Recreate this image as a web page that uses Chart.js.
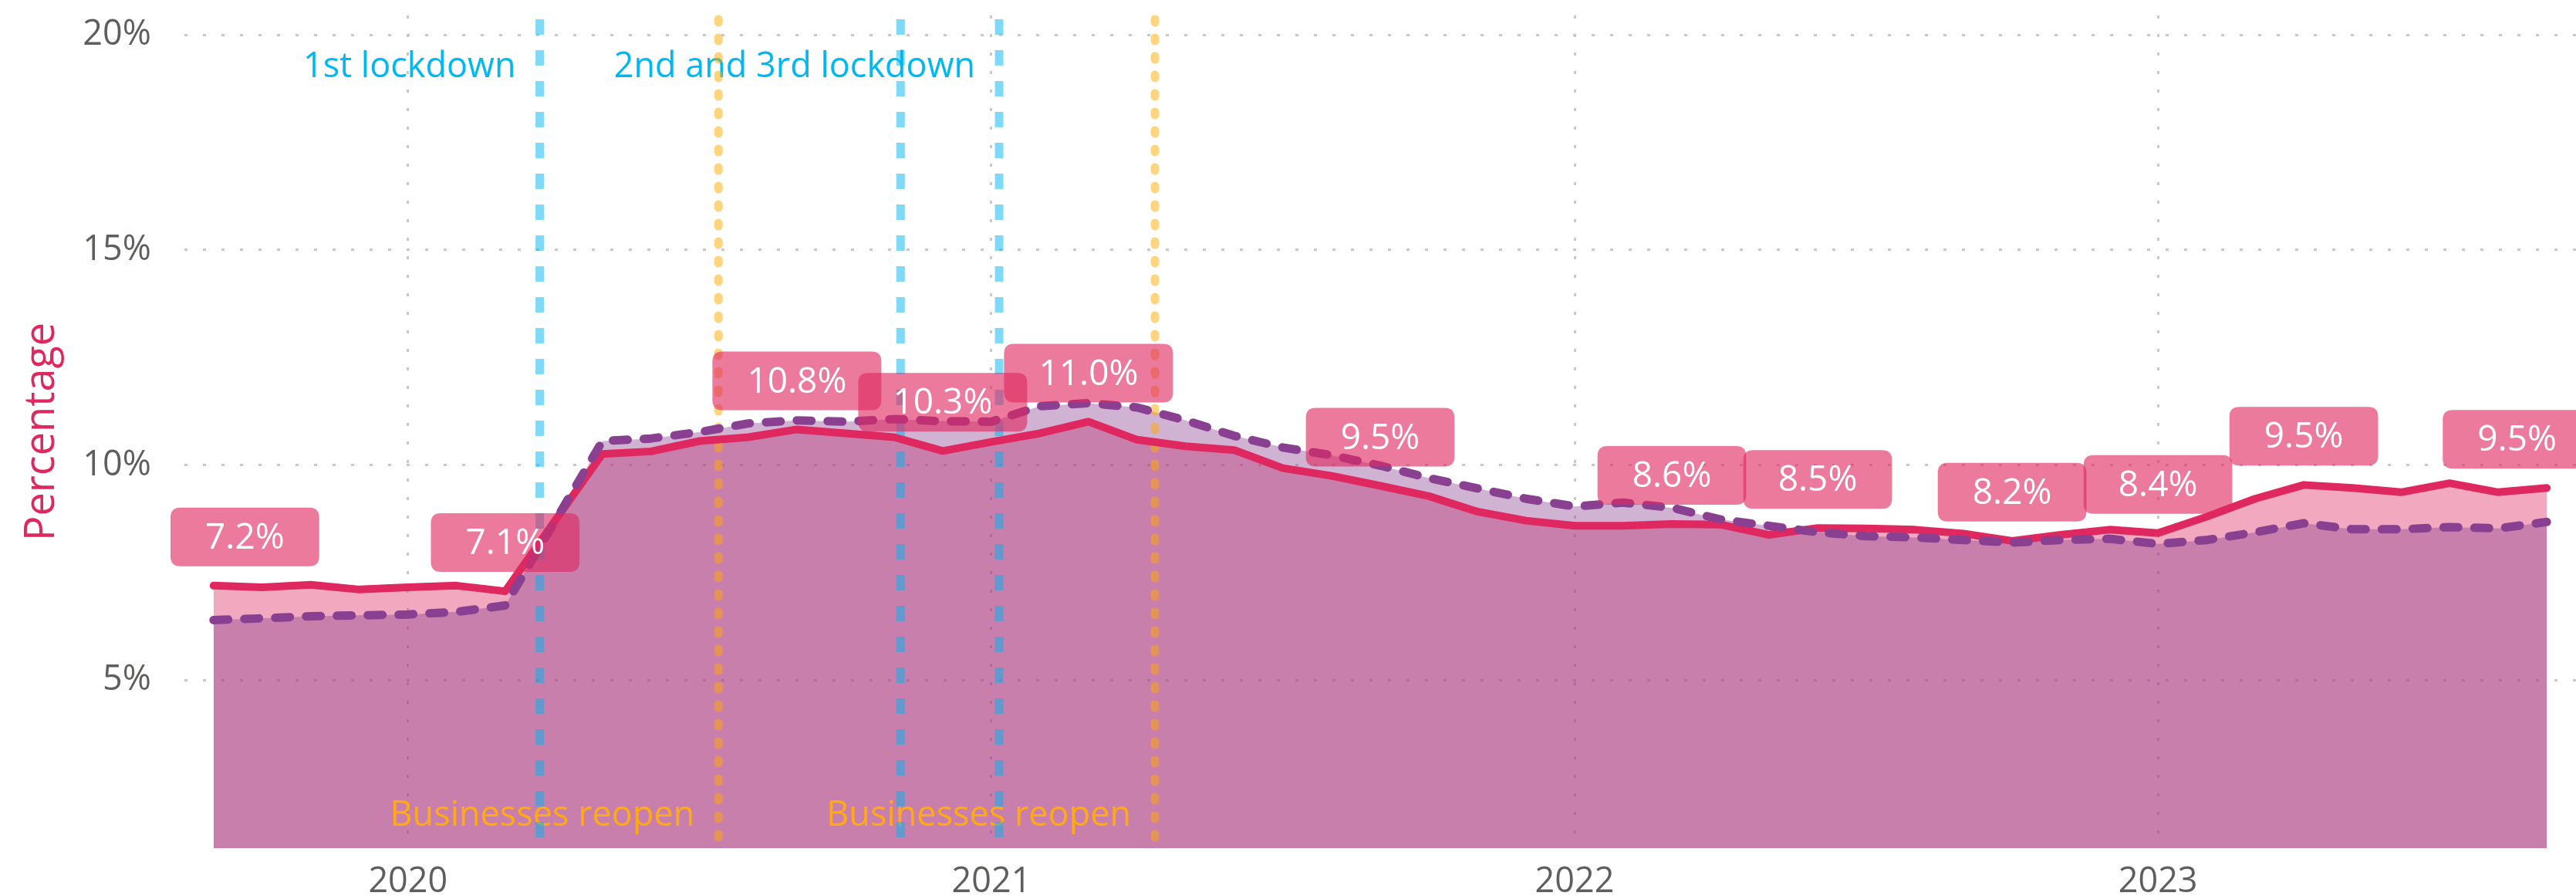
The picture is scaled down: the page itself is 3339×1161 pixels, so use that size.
<!DOCTYPE html>
<html>
<head>
<meta charset="utf-8">
<script src="https://cdn.jsdelivr.net/npm/chart.js@4.4.0/dist/chart.umd.min.js"></script>
<style>
  html, body { margin: 0; padding: 0; background: #fff; }
  #wrap { width: 3339px; height: 1161px; position: relative; }
</style>
</head>
<body>
<div id="wrap"><canvas id="myChart"></canvas></div>
<script>
// monthly points, Sep 2019 .. Sep 2023
const months = [
  '2019-09', '2019-10', '2019-11', '2019-12',
  '2020-01', '2020-02', '2020-03', '2020-04', '2020-05', '2020-06',
  '2020-07', '2020-08', '2020-09', '2020-10', '2020-11', '2020-12',
  '2021-01', '2021-02', '2021-03', '2021-04', '2021-05', '2021-06',
  '2021-07', '2021-08', '2021-09', '2021-10', '2021-11', '2021-12',
  '2022-01', '2022-02', '2022-03', '2022-04', '2022-05', '2022-06',
  '2022-07', '2022-08', '2022-09', '2022-10', '2022-11', '2022-12',
  '2023-01', '2023-02', '2023-03', '2023-04', '2023-05', '2023-06',
  '2023-07', '2023-08', '2023-09'
];

// solid line (labelled)
const pctMain = [
  7.20, 7.16, 7.22, 7.11,
  7.16, 7.20, 7.07, 8.67, 10.26, 10.32,
  10.56, 10.65, 10.83, 10.74, 10.65, 10.33,
  10.54, 10.74, 11.01, 10.59, 10.44, 10.35,
  9.93, 9.75, 9.52, 9.28, 8.92, 8.71,
  8.59, 8.59, 8.63, 8.62, 8.38, 8.54,
  8.53, 8.50, 8.41, 8.24, 8.38, 8.50,
  8.42, 8.80, 9.22, 9.54, 9.47, 9.37,
  9.58, 9.37, 9.47
];

// dashed line
const pctCompare = [
  6.40, 6.44, 6.49, 6.51,
  6.53, 6.59, 6.74, 8.65, 10.56, 10.62,
  10.77, 10.97, 11.04, 11.01, 11.07, 11.02,
  11.01, 11.37, 11.44, 11.34, 11.04, 10.68,
  10.41, 10.23, 9.99, 9.70, 9.46, 9.22,
  9.04, 9.13, 9.01, 8.74, 8.59, 8.44,
  8.35, 8.32, 8.26, 8.20, 8.26, 8.29,
  8.17, 8.26, 8.44, 8.65, 8.51, 8.51,
  8.56, 8.53, 8.68
];

// points of the solid line that carry a value box
const labelAt = [0, 6, 12, 15, 18, 24, 30, 33, 37, 40, 43, 48];

const yTicks = [5, 10, 15, 20];
const yearLabels = ['2020', '2021', '2022', '2023'];

const eventDates = ['2020-03-23', '2020-07-13', '2020-11-05', '2021-01-06', '2021-04-12'];
const eventKinds = ['lockdown', 'reopen', 'lockdown', 'lockdown', 'reopen'];
const eventTexts = ['1st lockdown', 'Businesses reopen', '', '2nd and 3rd lockdown', 'Businesses reopen'];

const FONT = "'Open Sans', sans-serif";
const RED = 'rgb(223,40,95)';
const PURPLE = 'rgb(137,64,145)';
const GREY = '#605E5C';

function monthPos(dateStr) {
  const [y, m, d] = dateStr.split('-').map(Number);
  const i = months.indexOf(dateStr.slice(0, 7));
  const days = new Date(y, m, 0).getDate();
  return i + (d - 1) / days;
}

function roundRect(ctx, x, y, w, h, r) {
  ctx.beginPath();
  ctx.moveTo(x + r, y);
  ctx.lineTo(x + w - r, y);
  ctx.quadraticCurveTo(x + w, y, x + w, y + r);
  ctx.lineTo(x + w, y + h - r);
  ctx.quadraticCurveTo(x + w, y + h, x + w - r, y + h);
  ctx.lineTo(x + r, y + h);
  ctx.quadraticCurveTo(x, y + h, x, y + h - r);
  ctx.lineTo(x, y + r);
  ctx.quadraticCurveTo(x, y, x + r, y);
  ctx.closePath();
}

const eventsPlugin = {
  id: 'events',
  beforeDatasetsDraw(chart) {
    const {ctx, chartArea: a, scales: {x}} = chart;
    ctx.save();
    ctx.font = '45px ' + FONT;
    ctx.textAlign = 'right';
    ctx.textBaseline = 'alphabetic';
    eventDates.forEach((d, i) => {
      if (!eventTexts[i]) return;
      const px = x.getPixelForValue(monthPos(d));
      const lock = eventKinds[i] === 'lockdown';
      ctx.fillStyle = lock ? 'rgb(0,184,241)' : 'rgb(255,170,20)';
      ctx.fillText(eventTexts[i], px - 31, lock ? a.top + 80 : a.bottom - 29);
    });
    eventDates.forEach((d, i) => {
      const px = x.getPixelForValue(monthPos(d));
      ctx.beginPath();
      ctx.lineWidth = 11;
      if (eventKinds[i] === 'lockdown') {
        ctx.setLineDash([20, 20]);
        ctx.lineCap = 'butt';
        ctx.strokeStyle = 'rgba(0,180,240,0.5)';
      } else {
        ctx.setLineDash([4, 20]);
        ctx.lineCap = 'round';
        ctx.strokeStyle = 'rgba(255,170,0,0.5)';
      }
      ctx.moveTo(px, a.top + 5);
      ctx.lineTo(px, a.bottom);
      ctx.stroke();
    });
    ctx.restore();
  }
};

const boxesPlugin = {
  id: 'boxes',
  afterDatasetsDraw(chart) {
    const ctx = chart.ctx;
    const a = chart.chartArea;
    const meta = chart.getDatasetMeta(0);
    ctx.save();
    ctx.font = '46px ' + FONT;
    ctx.textAlign = 'center';
    ctx.textBaseline = 'middle';
    labelAt.forEach(i => {
      const pt = meta.data[i];
      const text = pctMain[i].toFixed(1) + '%';
      const w = ctx.measureText(text).width + 90;
      const h = 76;
      let cx = Math.min(pt.x, chart.width + 20 - w / 2);
      cx = Math.max(cx, a.left - 18 + w / 2);
      const cy = pt.y - 63;
      roundRect(ctx, cx - w / 2, cy - h / 2, w, h, 13);
      ctx.fillStyle = 'rgba(223,40,95,0.62)';
      ctx.fill();
      ctx.fillStyle = '#fff';
      ctx.fillText(text, cx, cy + 2);
    });
    ctx.restore();
  }
};

const ctx = document.getElementById('myChart').getContext('2d');
const myChart = new Chart(ctx, {
  type: 'line',
  data: {
    datasets: [{
      label: 'Solid',
      data: pctMain.map((v, i) => ({x: i, y: v})),
      borderColor: RED,
      backgroundColor: 'rgba(223,40,95,0.4)',
      borderWidth: 10,
      borderCapStyle: 'round',
      borderJoinStyle: 'round',
      fill: 'start',
      pointRadius: 0,
      tension: 0,
      order: 1
    }, {
      label: 'Dashed',
      data: pctCompare.map((v, i) => ({x: i, y: v})),
      borderColor: PURPLE,
      backgroundColor: 'rgba(137,64,145,0.4)',
      borderWidth: 11,
      borderDash: [19, 21],
      borderCapStyle: 'round',
      borderJoinStyle: 'round',
      fill: 'start',
      pointRadius: 0,
      tension: 0,
      order: 0
    }]
  },
  options: {
    responsive: true,
    maintainAspectRatio: false,
    animation: false,
    layout: { padding: { top: 20, left: 0, right: 0, bottom: 0 } },
    plugins: {
      legend: { display: false },
      tooltip: { enabled: false },
      filler: { drawTime: 'beforeDatasetsDraw' }
    },
    scales: {
      x: {
        type: 'linear',
        min: -0.6,
        max: 48.6,
        afterBuildTicks: s => {
          s.ticks = yearLabels.map(y => ({value: months.indexOf(y + '-01')}));
        },
        afterFit: s => { s.height = 62; s.paddingLeft = 0; s.paddingRight = 0; },
        ticks: {
          callback: v => months[v] ? months[v].slice(0, 4) : '',
          color: GREY,
          font: { family: FONT, size: 45 },
          padding: 17,
          maxRotation: 0,
          autoSkip: false
        },
        grid: { color: '#c8c8c8', lineWidth: 3, drawTicks: false },
        border: { display: false, dash: [4, 20] }
      },
      y: {
        min: 1.1,
        max: 20.45,
        afterBuildTicks: s => { s.ticks = yTicks.map(v => ({value: v})); },
        afterFit: s => { s.width = 239; s.paddingTop = 0; s.paddingBottom = 0; },
        ticks: {
          callback: v => v + '%',
          color: GREY,
          font: { family: FONT, size: 45 },
          padding: 43
        },
        grid: { color: '#c8c8c8', lineWidth: 3, drawTicks: false },
        border: { display: false, dash: [4, 20] },
        title: {
          display: true,
          text: 'Percentage',
          color: RED,
          font: { family: FONT, size: 54 },
          padding: { top: 22, bottom: 0 }
        }
      }
    }
  },
  plugins: [eventsPlugin, boxesPlugin]
});
</script>
</body>
</html>
